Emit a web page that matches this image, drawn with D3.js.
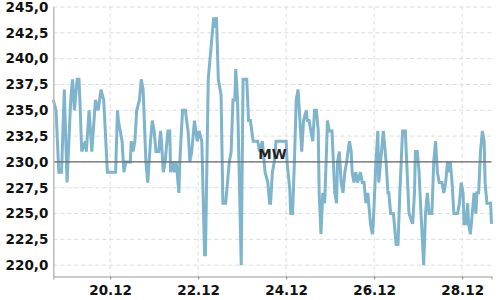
<!DOCTYPE html>
<html>
<head>
<meta charset="utf-8">
<script src="https://cdn.jsdelivr.net/npm/d3@7"></script>
<style>
  html, body { margin: 0; padding: 0; background: #fff; }
  svg { display: block; }
  .tick text { font-family: "DejaVu Sans", sans-serif; font-size: 13.5px; font-weight: bold; fill: #111; }
</style>
</head>
<body>
<div id="chart"></div>
<script>
// time stamps (dd.mm HH:MM) and the values
const times = [
  "18.12 17:00","18.12 18:30","18.12 20:00","18.12 21:30","18.12 23:00",
  "19.12 00:30","19.12 02:30","19.12 03:30","19.12 04:30","19.12 06:00","19.12 07:00","19.12 07:30","19.12 08:30",
  "19.12 10:30","19.12 11:00","19.12 12:30","19.12 14:00","19.12 16:00","19.12 17:30","19.12 19:00","19.12 20:30","19.12 22:30",
  "20.12 03:00","20.12 04:00","20.12 04:30","20.12 06:30","20.12 07:30","20.12 08:30","20.12 11:00","20.12 11:30",
  "20.12 12:30","20.12 13:30","20.12 14:30","20.12 16:00","20.12 17:00","20.12 18:00","20.12 19:30","20.12 20:30",
  "20.12 22:00","20.12 23:00",
  "21.12 00:00","21.12 01:00","21.12 02:30","21.12 03:30","21.12 04:00","21.12 05:00","21.12 06:00","21.12 07:30",
  "21.12 08:30","21.12 09:00","21.12 10:00","21.12 11:00","21.12 12:00","21.12 13:30","21.12 14:00","21.12 15:30",
  "21.12 17:00","21.12 18:30","21.12 19:30","21.12 20:30","21.12 22:00","21.12 23:30",
  "22.12 00:30","22.12 02:00","22.12 03:30","22.12 04:00","22.12 05:30","22.12 06:30","22.12 07:00","22.12 07:30",
  "22.12 08:30","22.12 09:00","22.12 10:00","22.12 11:00","22.12 12:30","22.12 13:30","22.12 15:00","22.12 16:00",
  "22.12 16:30","22.12 17:00","22.12 18:00","22.12 19:00","22.12 20:00","22.12 20:30","22.12 21:30","22.12 23:30",
  "23.12 00:30","23.12 02:30","23.12 03:30","23.12 04:30","23.12 06:00","23.12 08:30","23.12 09:30","23.12 11:00",
  "23.12 12:30","23.12 14:00","23.12 15:00","23.12 15:30","23.12 16:30","23.12 17:30","23.12 18:30",
  "24.12 00:00","24.12 00:30","24.12 02:00","24.12 02:30","24.12 03:30","24.12 04:30","24.12 05:30","24.12 06:30",
  "24.12 07:30","24.12 08:30","24.12 09:30","24.12 11:00","24.12 11:30","24.12 12:30","24.12 13:30","24.12 14:30",
  "24.12 15:30","24.12 16:30","24.12 17:30","24.12 18:00","24.12 19:00","24.12 20:00","24.12 21:00","24.12 22:00",
  "24.12 22:30","24.12 23:30",
  "25.12 01:00","25.12 02:30","25.12 03:30","25.12 04:00","25.12 05:00","25.12 06:00","25.12 07:00","25.12 08:00",
  "25.12 09:00","25.12 10:30","25.12 11:30","25.12 12:00","25.12 13:00","25.12 14:00","25.12 15:00","25.12 16:30",
  "25.12 17:30","25.12 18:30","25.12 19:30","25.12 20:30","25.12 22:00","25.12 23:00","25.12 23:30",
  "26.12 01:00","26.12 02:00","26.12 02:30","26.12 03:30","26.12 05:00","26.12 06:30","26.12 07:30","26.12 08:00",
  "26.12 09:00","26.12 10:30","26.12 12:00","26.12 13:00","26.12 14:00","26.12 15:30","26.12 17:00","26.12 18:00",
  "26.12 19:00","26.12 21:00","26.12 22:00","26.12 22:30","26.12 23:30",
  "27.12 00:30","27.12 01:00","27.12 03:00","27.12 04:00","27.12 05:00","27.12 06:00","27.12 07:30","27.12 08:30",
  "27.12 09:30","27.12 10:30","27.12 11:30","27.12 13:00","27.12 14:00","27.12 15:00","27.12 16:00","27.12 16:30",
  "27.12 17:30","27.12 18:30","27.12 19:30","27.12 21:30","27.12 22:30","27.12 23:30",
  "28.12 00:30","28.12 01:00","28.12 02:00","28.12 03:00","28.12 03:30","28.12 04:30","28.12 05:30","28.12 06:30",
  "28.12 07:30","28.12 08:00","28.12 09:00","28.12 10:00","28.12 11:00","28.12 12:00","28.12 12:30","28.12 13:30",
  "28.12 15:30","28.12 16:00"
];
const values = [
  236,235,229,229,237,
  228,236,238,235,238,238,236,231,
  232,231,235,231,236,235,237,236,229,
  229,235,234,232,229,230,230,232,
  231,232,235,236,238,237,230,228,
  232,234,
  233,231,231,233,232,229,230,233,
  233,229,230,229,230,227,230,235,
  235,233,230,231,234,232,
  233,232,221,221,238,240,241,242,
  244,243,244,238,236.5,226,226,228,
  229,230,231,236,236,239,236,220,
  238,238,234,234,232,232,231,232,
  229,228,226,226,229,230,232,
  232,230,227.3,225,225,230,236,237,
  234,231,234,235,234,234,233,232,
  235,235,233,227,223,227,226,231,
  234,233,
  233,227,226,230,231,228,227,229,
  230,232,231,229,228,229,228,229,
  228,228,226,227,224,223,224,
  230,233,228,230,233,230,227,227,
  225,225,222,222,227,233,233,229,
  225,224,227,231,231,
  229,227,220,225,227,225,225,230,
  232,229,228,228,227,228,230,229,
  230,228,225,225,226,228,
  227,224,224,226,224,223,225,227,
  225,227,227,231,233,232,228,226,
  226,224
];
const xTickLabels = ["20.12", "22.12", "24.12", "26.12", "28.12"];
const yTicks = [220, 222.5, 225, 227.5, 230, 232.5, 235, 237.5, 240, 242.5, 245];
const meanValue = 230;
const meanLabel = "MW";

const width = 500, height = 300;
const margin = { top: 6.5, right: 8.5, bottom: 23.5, left: 53.3 };
const innerW = width - margin.left - margin.right;
const innerH = height - margin.top - margin.bottom;

const parseTime = d3.timeParse("%d.%m %H:%M");
const parseDay = d3.timeParse("%d.%m");
const data = times.map((t, i) => ({ t: parseTime(t), v: values[i] }));

const locale = d3.formatLocale({ decimal: ",", thousands: ".", grouping: [3], currency: ["", " €"] });
const yFmt = locale.format(".1f");

const svg = d3.select("#chart").append("svg")
  .attr("width", width)
  .attr("height", height);

const g = svg.append("g")
  .attr("transform", `translate(${margin.left},${margin.top})`);

const x = d3.scaleTime()
  .domain(d3.extent(data, d => d.t))
  .range([0, innerW]);

const y = d3.scaleLinear()
  .domain([218.9, 245.05])
  .range([innerH, 0]);

// grid
g.append("g")
  .selectAll("line")
  .data(yTicks)
  .join("line")
  .attr("x1", 0).attr("x2", innerW)
  .attr("y1", d => y(d)).attr("y2", d => y(d))
  .attr("stroke", "#dcdcdc")
  .attr("stroke-dasharray", "4,3");

const xTicks = xTickLabels.map(parseDay);
g.append("g")
  .selectAll("line")
  .data(xTicks)
  .join("line")
  .attr("x1", d => x(d)).attr("x2", d => x(d))
  .attr("y1", 0).attr("y2", innerH)
  .attr("stroke", "#dcdcdc")
  .attr("stroke-dasharray", "4,3");

// series
const line = d3.line()
  .x(d => x(d.t))
  .y(d => y(d.v));

g.append("path")
  .datum(data)
  .attr("fill", "none")
  .attr("stroke", "#7fb4cd")
  .attr("stroke-width", 3)
  .attr("stroke-linejoin", "miter")
  .attr("d", line);

// mean line
g.append("line")
  .attr("x1", 0).attr("x2", innerW)
  .attr("y1", y(meanValue)).attr("y2", y(meanValue))
  .attr("stroke", "#666")
  .attr("stroke-width", 1.2);

g.append("text")
  .attr("x", innerW / 2)
  .attr("y", y(meanValue) - 3)
  .attr("text-anchor", "middle")
  .style("font-family", "DejaVu Sans, sans-serif")
  .style("font-size", "13.5px")
  .style("font-weight", "bold")
  .style("fill", "#222")
  .text(meanLabel);

// axes
const xAxis = g.append("g")
  .attr("transform", `translate(0,${innerH})`)
  .call(d3.axisBottom(x)
    .tickValues(xTicks)
    .tickFormat(d3.timeFormat("%d.%m"))
    .tickSize(3)
    .tickPadding(6));
xAxis.select(".domain").attr("stroke", "#bbb").attr("stroke-width", 1.5);
xAxis.selectAll(".tick line").attr("stroke", "#888");

const yAxis = g.append("g")
  .call(d3.axisLeft(y)
    .tickValues(yTicks)
    .tickFormat(yFmt)
    .tickSize(0)
    .tickPadding(5));
yAxis.select(".domain").attr("stroke", "#bbb").attr("stroke-width", 1.5);
</script>
</body>
</html>
